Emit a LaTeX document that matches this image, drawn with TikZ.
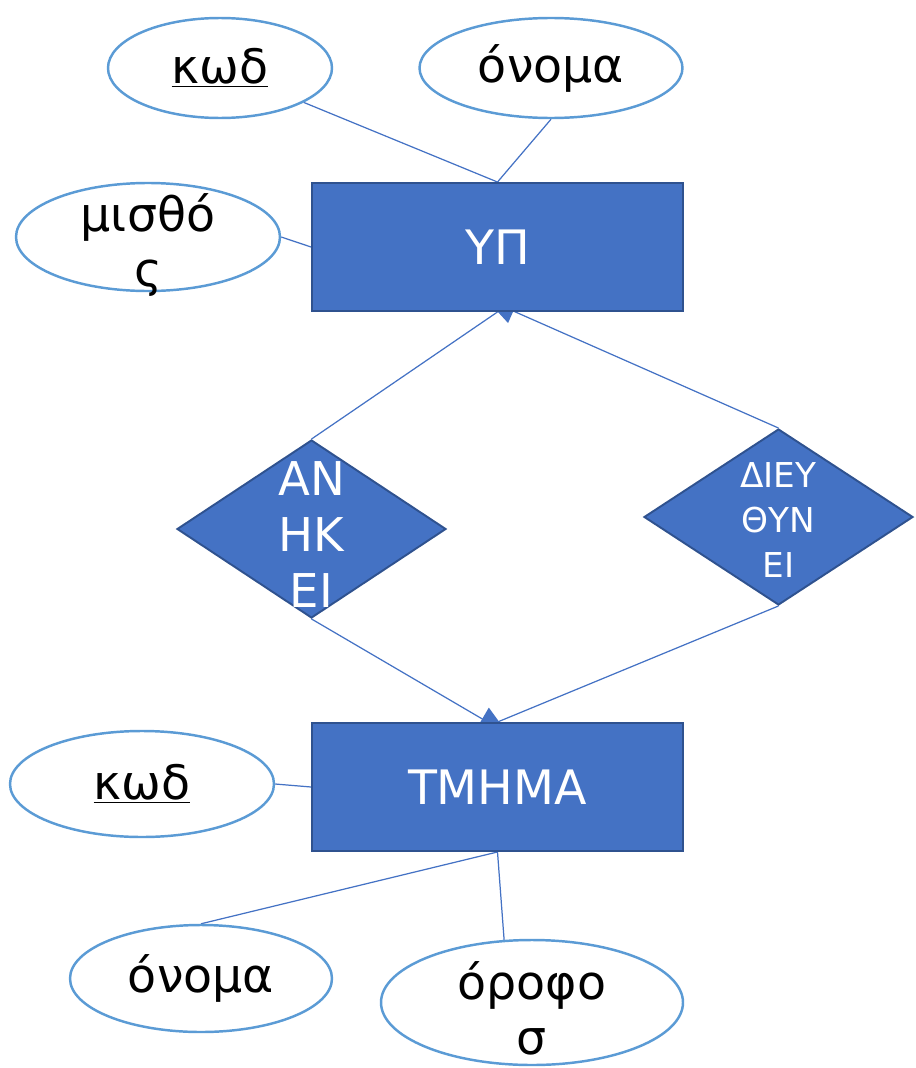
\documentclass[tikz,border=0pt]{standalone}
\usepackage{fontspec}
\setmainfont{DejaVu Sans}
\usetikzlibrary{shapes,arrows.meta,positioning,backgrounds}
\definecolor{boxblue}{RGB}{68,114,196}
\definecolor{boxedge}{RGB}{47,82,143}
\definecolor{attredge}{RGB}{91,155,213}

\begin{document}
\begin{tikzpicture}[
	entity/.style={rectangle, draw=boxedge, line width=1.1pt, fill=boxblue, text=white, minimum width=7.42cm, minimum height=2.56cm, font=\fontsize{27}{32}\selectfont},
	attr/.style={ellipse, draw=attredge, line width=1.4pt, fill=white, font=\fontsize{27}{31}\selectfont},
	attrtext/.style={align=center, font=\fontsize{27}{31}\selectfont},
	rel/.style={diamond, draw=boxedge, line width=1.1pt, fill=boxblue, inner sep=0pt},
	reltext/.style={align=center, text=white},
	link/.style={draw=boxblue, line width=0.7pt}
	]
				\useasboundingbox (0,0) rectangle (18.30,-21.36);
				
				% entities
				\node[entity] (yp) at (9.95,-4.94) {ΥΠ};
				\node[entity] (tmhma) at (9.95,-15.74) {ΤΜΗΜΑ};
				
				% attributes
				\node[attr, minimum width=4.48cm, minimum height=2.0cm] (kwd1) at (4.40,-1.36) {\underline{κωδ}};
				\node[attr, minimum width=5.26cm, minimum height=2.0cm] (onoma1) at (11.02,-1.36) {όνομα};
				\node[attr, minimum width=5.28cm, minimum height=2.16cm] (misthos) at (2.96,-4.74) {};
				\node[attrtext] (misthos-t) at (2.96,-4.90) {μισθό\\ς};
				\node[attr, minimum width=5.28cm, minimum height=2.12cm] (kwd2) at (2.84,-15.68) {\underline{κωδ}};
				\node[attr, minimum width=5.24cm, minimum height=2.14cm] (onoma2) at (4.02,-19.57) {όνομα};
				\node[attr, minimum width=6.04cm, minimum height=2.5cm] (orofos) at (10.64,-20.05) {};
				\node[attrtext] (orofos-t) at (10.64,-20.17) {όροφο\\σ};
				
				% relationships
				\node[rel, minimum width=5.38cm, minimum height=3.56cm] (anhkei) at (6.23,-10.58) {};
				\node[reltext, font=\fontsize{26.5}{31.7}\selectfont] (anhkei-t) at (6.23,-10.69) {ΑΝ\\ΗΚ\\ΕΙ};
				\node[rel, minimum width=5.38cm, minimum height=3.52cm] (dieyth) at (15.57,-10.34) {};
				\node[reltext, font=\fontsize{19.5}{25.5}\selectfont] (dieyth-t) at (15.57,-10.40) {ΔΙΕΥ\\ΘΥΝ\\ΕΙ};
				
				\coordinate (yp-in) at (9.72,-5.98);
				\coordinate (tm-in) at (10.16,-14.68);
				
				\begin{pgfonlayer}{background}
				\draw[link] (kwd1) -- (yp.north);
				\draw[link] (onoma1.south) -- (yp.north);
				\draw[link] (misthos.east) -- (yp.west);
				\draw[link] (anhkei.north) -- (yp.south);
				\draw[link, -{Triangle[length=17pt, width=14.7pt]}] (dieyth.north) -- (yp-in);
				\draw[link, -{Triangle[length=17pt, width=14.7pt]}] (anhkei.south) -- (tm-in);
				\draw[link] (dieyth.south) -- (tmhma.north);
				\draw[link] (kwd2.east) -- (tmhma.west);
				\draw[link] (tmhma.south) -- (onoma2.north);
				\draw[link] (tmhma.south) -- (orofos.114);
				\end{pgfonlayer}
			\end{tikzpicture}
\end{document}
